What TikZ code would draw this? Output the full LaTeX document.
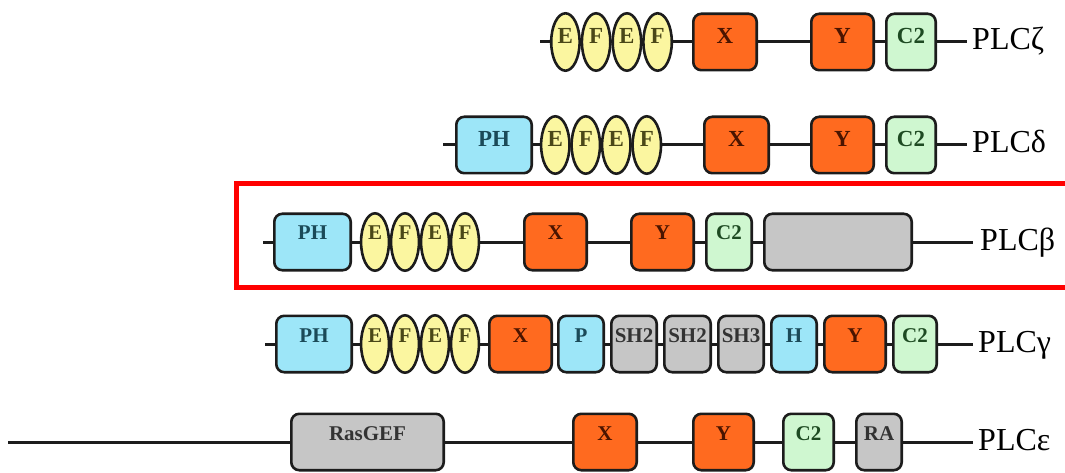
\documentclass[tikz,border=0pt]{standalone}
\usepackage{fontspec}
\setmainfont{Liberation Serif}
\usetikzlibrary{shapes.geometric}

\definecolor{edgeink}{HTML}{1C1C1C}
\definecolor{xyfill}{HTML}{FF6A1F}
\definecolor{xyink}{HTML}{4A1400}
\definecolor{phfill}{HTML}{9DE6F8}
\definecolor{phink}{HTML}{1B4A58}
\definecolor{effill}{HTML}{FBF6A0}
\definecolor{efink}{HTML}{4A4718}
\definecolor{c2fill}{HTML}{CFF7D0}
\definecolor{c2ink}{HTML}{1E4A22}
\definecolor{grfill}{HTML}{C6C6C6}
\definecolor{grink}{HTML}{333333}
\definecolor{framered}{HTML}{FF0000}

\tikzset{
  dom/.style={draw=edgeink, line width=2.6pt, inner sep=0pt,
    minimum height=56.4pt, text height=0pt, text depth=4pt,
    font=\bfseries\fontsize{21}{21}\selectfont},
  box/.style={dom, rectangle, rounded corners=8pt},
  bigtext/.style={font=\bfseries\fontsize{23}{23}\selectfont,
    text height=3pt, text depth=0pt},
  xy/.style={box, fill=xyfill, text=xyink},
  ph/.style={box, fill=phfill, text=phink},
  c2/.style={box, fill=c2fill, text=c2ink},
  gr/.style={box, fill=grfill, text=grink},
  ef/.style={dom, ellipse, fill=effill, text=efink, minimum height=57.4pt},
  backbone/.style={draw=edgeink, line width=3pt},
  plc/.style={anchor=base west, inner sep=0pt, text=black,
    font=\fontsize{32}{32}\selectfont},
  redframe/.style={draw=framered, line width=5pt}
}

% node centred at (xc,yc) whose outer width is w
\newcommand\dom[6]{%
  \pgfmathsetmacro\dmw{#4-2.6}%
  \node[#2, minimum width=\dmw pt] (#1) at (#3,#5) {#6};}

\begin{document}
\begin{tikzpicture}[x=1pt,y=-1pt]
\useasboundingbox (0,0) rectangle (1065,473);

% ---------- PLC zeta ----------
\coordinate (za) at (540,42);
\coordinate (zb) at (967,42);
\draw[backbone] (za) -- (zb);
\dom{zE1}{ef,bigtext}{565.4}{31}{42}{E}
\dom{zF1}{ef,bigtext}{596.1}{31}{42}{F}
\dom{zE2}{ef,bigtext}{626.9}{31}{42}{E}
\dom{zF2}{ef,bigtext}{657.6}{31}{42}{F}
\dom{zX}{xy,bigtext}{725}{66}{42}{X}
\dom{zY}{xy,bigtext}{842.5}{65}{42}{Y}
\dom{zC}{c2,bigtext}{911}{52}{42}{C2}
\node[plc] (zL) at (972,50) {PLCζ};

% ---------- PLC delta ----------
\coordinate (da) at (443,145);
\coordinate (db) at (967,145);
\draw[backbone] (da) -- (db);
\dom{dPH}{ph,bigtext}{494}{78}{145}{PH}
\dom{dE1}{ef,bigtext}{555.3}{31}{145}{E}
\dom{dF1}{ef,bigtext}{585.8}{31}{145}{F}
\dom{dE2}{ef,bigtext}{616.3}{31}{145}{E}
\dom{dF2}{ef,bigtext}{646.8}{31}{145}{F}
\dom{dX}{xy,bigtext}{736.5}{67}{145}{X}
\dom{dY}{xy,bigtext}{842.5}{65}{145}{Y}
\dom{dC}{c2,bigtext}{911}{52}{145}{C2}
\node[plc] (dL) at (972,153) {PLCδ};

% ---------- PLC beta (framed) ----------
\draw[redframe] (1070,183.5) -- (236,183.5) -- (236,287.5) -- (1070,287.5);
\coordinate (ba) at (263,242);
\coordinate (bb) at (973,242);
\draw[backbone] (ba) -- (bb);
\dom{bPH}{ph}{312.5}{79}{242}{PH}
\dom{bE1}{ef}{375}{30.5}{242}{E}
\dom{bF1}{ef}{405}{30.5}{242}{F}
\dom{bE2}{ef}{435}{30.5}{242}{E}
\dom{bF2}{ef}{465}{30.5}{242}{F}
\dom{bX}{xy}{555.5}{65}{242}{X}
\dom{bY}{xy}{662.5}{65}{242}{Y}
\dom{bC}{c2}{729}{48}{242}{C2}
\dom{bG}{gr}{838}{150}{242}{}
\node[plc] (bL) at (980,250) {PLCβ};

% ---------- PLC gamma ----------
\coordinate (ga) at (265,344);
\coordinate (gb) at (973,344);
\draw[backbone] (ga) -- (gb);
\dom{gPH}{ph}{314}{78}{344}{PH}
\dom{gE1}{ef}{375}{30.5}{344}{E}
\dom{gF1}{ef}{405}{30.5}{344}{F}
\dom{gE2}{ef}{435}{30.5}{344}{E}
\dom{gF2}{ef}{465}{30.5}{344}{F}
\dom{gX}{xy}{520.5}{65}{344}{X}
\dom{gP}{ph}{581}{48}{344}{P}
\dom{gS1}{gr}{634}{48}{344}{SH2}
\dom{gS2}{gr}{687.5}{49}{344}{SH2}
\dom{gS3}{gr}{741}{48}{344}{SH3}
\dom{gH}{ph}{794}{48}{344}{H}
\dom{gY}{xy}{855}{64}{344}{Y}
\dom{gC}{c2}{915}{46}{344}{C2}
\node[plc] (gL) at (978,352) {PLCγ};

% ---------- PLC epsilon ----------
\coordinate (ea) at (8,442);
\coordinate (eb) at (973,442);
\draw[backbone] (ea) -- (eb);
\dom{eR}{gr}{367.5}{155}{442}{RasGEF}
\dom{eX}{xy}{605}{66}{442}{X}
\dom{eY}{xy}{723.5}{63}{442}{Y}
\dom{eC}{c2}{808.5}{53}{442}{C2}
\dom{eA}{gr}{879}{48}{442}{RA}
\node[plc] (eL) at (978,450) {PLCε};
\end{tikzpicture}
\end{document}
